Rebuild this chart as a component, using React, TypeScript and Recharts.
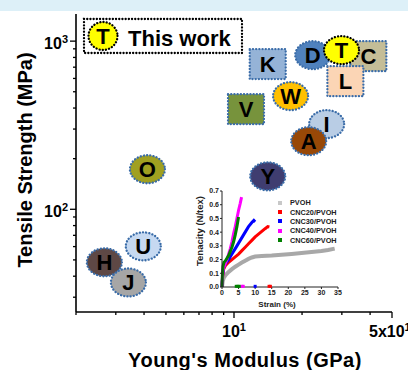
import React from 'react';
import { ScatterChart, Scatter, XAxis, YAxis, ComposedChart, Line } from 'recharts';

const FONT = '"Liberation Sans", Arial, Helvetica, sans-serif';

// main plot: literature values, modulus (GPa) vs strength (MPa)
const labels = ['K', 'D', 'C', 'T', 'L', 'W', 'V', 'I', 'A', 'Y', 'O', 'U', 'H', 'J'];
const modulus = [14.1, 22.3, 39.3, 29.9, 31.1, 17.8, 11.3, 25.7, 21.4, 14.1, 4.14, 3.97, 2.67, 3.41];
const strength = [730, 825, 814, 884, 578, 471, 394, 321, 254, 157, 173, 60.2, 48.4, 36.7];

const xTicks = [2, 3, 4, 5, 6, 7, 8, 9, 10, 20, 30, 40, 50];
const yTicks = [30, 40, 50, 60, 70, 80, 90, 100, 200, 300, 400, 500, 600, 700, 800, 900, 1000];
const xMajor = [10, 50];
const yMajor = [100, 1000];

// inset: tensile curves
const seriesNames = ['PVOH', 'CNC20/PVOH', 'CNC30/PVOH', 'CNC40/PVOH', 'CNC60/PVOH'];
const pvohStrain = [0, 0.2, 0.5, 1, 2, 3, 4, 5, 6, 7, 8, 9, 10, 12, 15, 18, 21, 24, 27, 30, 32, 34];
const pvohTenacity = [0, 0.04, 0.065, 0.085, 0.11, 0.13, 0.148, 0.163, 0.178, 0.192, 0.205, 0.215, 0.222, 0.226, 0.229, 0.235, 0.241, 0.248, 0.255, 0.263, 0.27, 0.28];
const cnc20Strain = [0, 0.2, 0.5, 1, 2, 3, 4, 5, 6, 7, 8, 9, 10, 11, 12, 13, 13.8, 14.3];
const cnc20Tenacity = [0, 0.08, 0.13, 0.155, 0.18, 0.2, 0.22, 0.24, 0.265, 0.29, 0.315, 0.34, 0.365, 0.385, 0.405, 0.425, 0.44, 0.437];
const cnc30Strain = [0, 0.2, 0.5, 1, 2, 3, 4, 5, 6, 7, 8, 9, 9.6, 10];
const cnc30Tenacity = [0, 0.09, 0.14, 0.17, 0.2, 0.24, 0.28, 0.32, 0.36, 0.4, 0.44, 0.47, 0.485, 0.475];
const cnc40Strain = [0, 0.2, 0.5, 1, 1.5, 2, 2.5, 3, 3.5, 4, 4.5, 5, 5.5, 5.9];
const cnc40Tenacity = [0, 0.1, 0.14, 0.17, 0.2, 0.24, 0.28, 0.33, 0.39, 0.44, 0.5, 0.56, 0.61, 0.655];
const cnc60Strain = [0, 0.1, 0.3, 0.6, 1, 1.5, 2, 2.5, 3, 3.5, 4, 4.5, 5];
const cnc60Tenacity = [0, 0.08, 0.15, 0.18, 0.19, 0.21, 0.23, 0.26, 0.29, 0.33, 0.38, 0.44, 0.51];
// points left on the axis after the samples broke
const breakStrain = [[], [14.2, 14.6], [10], [6.0, 6.4], [4.3, 4.8, 5.2]];
const strainTicks = [0, 5, 10, 15, 20, 25, 30, 35];
const tenacityTicks = [0, 0.1, 0.2, 0.3, 0.4, 0.5, 0.6, 0.7];

const markerStyle: Record<string, { fill: string; box?: boolean }> = {
  K: { fill: '#95b3d7', box: true },
  D: { fill: '#4f81bd' },
  C: { fill: '#c4bd97', box: true },
  T: { fill: '#ffff00' },
  L: { fill: '#fbd5b5', box: true },
  W: { fill: '#ffc000' },
  V: { fill: '#77933c', box: true },
  I: { fill: '#b9cde5' },
  A: { fill: '#984807' },
  Y: { fill: '#3f3d70' },
  O: { fill: '#a0a020' },
  U: { fill: '#c6d9f1' },
  H: { fill: '#5e4845' },
  J: { fill: '#a6a6a6' },
};
const seriesColors = ['#a8a8a8', '#ff0000', '#0000ff', '#ff00ff', '#008000'];

const points = labels.map((label, i) => ({ x: modulus[i], y: strength[i], label }));
const curveStrain = [pvohStrain, cnc20Strain, cnc30Strain, cnc40Strain, cnc60Strain];
const curveTenacity = [pvohTenacity, cnc20Tenacity, cnc30Tenacity, cnc40Tenacity, cnc60Tenacity];
const curves = seriesNames.map((name, i) => ({
  name,
  points: curveStrain[i].map((s, j) => ({ s, t: curveTenacity[i][j] })),
  breaks: breakStrain[i].map((s) => ({ s, t: 0.005 })),
}));

const dotted = { strokeDasharray: '0.1 3.1', strokeLinecap: 'round' as const, strokeWidth: 2.3 };

function Marker(props: any) {
  const { cx, cy, payload } = props;
  const st = markerStyle[payload.label];
  const stroke = payload.label === 'T' ? '#000' : '#3a6ca8';
  return (
    <g>
      {st.box ? (
        <rect x={cx - 18} y={cy - 15} width={36} height={30} fill={st.fill} stroke={stroke} {...dotted} />
      ) : (
        <ellipse cx={cx} cy={cy} rx={17.5} ry={14} fill={st.fill} stroke={stroke} {...dotted} />
      )}
      <text x={cx} y={cy + 8} textAnchor="middle" fontFamily={FONT} fontWeight={700} fontSize={22} fill="#000">
        {payload.label}
      </text>
    </g>
  );
}

function LeftTick({ x, y, payload }: any) {
  const major = yMajor.includes(payload.value);
  return (
    <g>
      <line x1={x} x2={x - (major ? 6 : 3)} y1={y} y2={y} stroke="#000" strokeWidth={1.3} />
      {major && (
        <text x={x - 8} y={y + 8} textAnchor="end" fontFamily={FONT} fontWeight={700} fontSize={16} fill="#000">
          <tspan>10</tspan>
          <tspan dy={-6} fontSize={11}>{Math.round(Math.log10(payload.value))}</tspan>
        </text>
      )}
    </g>
  );
}

function RightTick({ x, y, payload }: any) {
  const major = yMajor.includes(payload.value);
  return <line x1={x} x2={x - (major ? 6 : 3)} y1={y} y2={y} stroke="#000" strokeWidth={1.3} />;
}

function BottomTick({ x, y, payload }: any) {
  const v = payload.value;
  const major = xMajor.includes(v);
  const last = v === 50;
  return (
    <g>
      <line x1={x} x2={x} y1={y} y2={y + (major ? 6 : 3)} stroke="#000" strokeWidth={1.3} />
      {major && (
        <text x={last ? x - 23 : x} y={y + 25} textAnchor={last ? 'start' : 'middle'} fontFamily={FONT} fontWeight={700} fontSize={16} fill="#000">
          <tspan>{last ? '5x10' : '10'}</tspan>
          <tspan dy={-6} fontSize={11}>1</tspan>
        </text>
      )}
    </g>
  );
}

function TopTick({ x, y, payload }: any) {
  const major = xMajor.includes(payload.value);
  return <line x1={x} x2={x} y1={y} y2={y + (major ? 6 : 3)} stroke="#000" strokeWidth={1.3} />;
}

function BreakMark(props: any) {
  const { cx, cy, fill } = props;
  return <rect x={cx - 1.5} y={cy - 1.5} width={3} height={3} fill={fill} />;
}

const axisLine = { stroke: '#000', strokeWidth: 1.6 };
const insetTick = { fontFamily: FONT, fontWeight: 700, fontSize: 7, fill: '#222' };

export default function App() {
  return (
    <div style={{ position: 'absolute', left: 0, top: 0, width: 408, height: 370, background: '#fff', fontFamily: FONT, overflow: 'hidden' }}>
      <div style={{ position: 'absolute', left: 0, top: 0, width: 408, height: 11, background: '#ddf0f8' }} />

      <div style={{ position: 'absolute', left: 0, top: 0 }}>
        <ScatterChart width={408} height={370} margin={{ top: 14, right: 16, bottom: 0, left: 0 }}>
          <XAxis xAxisId="b" dataKey="x" type="number" scale="log" domain={[2, 50]} allowDataOverflow ticks={xTicks} interval={0}
            height={58} tickSize={0} tickMargin={0} tickLine={false} axisLine={axisLine} tick={(p: any) => <BottomTick {...p} />} />
          <XAxis xAxisId="t" orientation="top" dataKey="x" type="number" scale="log" domain={[2, 50]} allowDataOverflow ticks={xTicks} interval={0}
            height={0} tickSize={0} tickMargin={0} tickLine={false} axisLine={axisLine} tick={(p: any) => <TopTick {...p} />} />
          <YAxis yAxisId="l" dataKey="y" type="number" scale="log" domain={[24.5, 1450]} allowDataOverflow ticks={yTicks} interval={0}
            width={76} tickSize={0} tickMargin={0} tickLine={false} axisLine={axisLine} tick={(p: any) => <LeftTick {...p} />} />
          <YAxis yAxisId="r" orientation="right" dataKey="y" type="number" scale="log" domain={[24.5, 1450]} allowDataOverflow ticks={yTicks} interval={0}
            width={0} tickSize={0} tickMargin={0} tickLine={false} axisLine={axisLine} tick={(p: any) => <RightTick {...p} />} />
          <Scatter data={points} xAxisId="b" yAxisId="l" shape={(p: any) => <Marker {...p} />} isAnimationActive={false} />
        </ScatterChart>
      </div>

      {/* "This work" key */}
      <svg style={{ position: 'absolute', left: 0, top: 0 }} width={408} height={60}>
        <rect x={84} y={19} width={158} height={34} fill="none" stroke="#000" {...dotted} />
        <ellipse cx={103} cy={36} rx={14.5} ry={14} fill="#ffff00" stroke="#000" {...dotted} />
        <text x={103} y={44} textAnchor="middle" fontFamily={FONT} fontWeight={700} fontSize={22}>T</text>
        <text x={128} y={46} fontFamily={FONT} fontWeight={700} fontSize={22}>This work</text>
      </svg>

      <div style={{ position: 'absolute', left: 0, top: 160, width: 50, textAlign: 'center', transform: 'translate(0,-50%)' }}>
        <div style={{ transform: 'rotate(-90deg)', whiteSpace: 'nowrap', fontSize: 20, fontWeight: 700, marginLeft: -100, marginRight: -100 }}>
          Tensile Strength (MPa)
        </div>
      </div>
      <div style={{ position: 'absolute', left: 95, width: 300, top: 349, textAlign: 'center', fontSize: 20, fontWeight: 700, letterSpacing: 0.5, whiteSpace: 'nowrap' }}>
        Young's Modulus (GPa)
      </div>

      {/* inset */}
      <div style={{ position: 'absolute', left: 180, top: 186 }}>
        <ComposedChart width={166} height={124} margin={{ top: 5, right: 8, bottom: 0, left: 0 }}>
          <XAxis dataKey="s" type="number" domain={[0, 35]} ticks={strainTicks} interval={0} height={23}
            tickSize={2} tickMargin={1} tick={insetTick} axisLine={{ stroke: '#222' }} tickLine={{ stroke: '#222' }} />
          <YAxis dataKey="t" type="number" domain={[0, 0.7]} ticks={tenacityTicks} interval={0} width={42}
            tickSize={2} tickMargin={1} tick={insetTick} tickFormatter={(v: number) => v.toFixed(1)} axisLine={{ stroke: '#222' }} tickLine={{ stroke: '#222' }} />
          {curves.map((c, i) => (
            <Line key={c.name} data={c.points} dataKey="t" name={c.name} stroke={seriesColors[i]} strokeWidth={i === 0 ? 4 : 3}
              dot={false} isAnimationActive={false} />
          ))}
          {curves.map((c, i) => (
            <Scatter key={c.name + '-b'} data={c.breaks} dataKey="t" fill={seriesColors[i]} shape={(p: any) => <BreakMark {...p} />} isAnimationActive={false} />
          ))}
        </ComposedChart>
      </div>
      <div style={{ position: 'absolute', left: 199, top: 231, width: 0, height: 0 }}>
        <div style={{ position: 'absolute', transform: 'translate(-50%,-50%) rotate(-90deg)', whiteSpace: 'nowrap', fontSize: 9.5, fontWeight: 700, color: '#222' }}>
          Tenacity (N/tex)
        </div>
      </div>
      <div style={{ position: 'absolute', left: 277, top: 304, width: 0, height: 0 }}>
        <div style={{ position: 'absolute', transform: 'translate(-50%,-50%)', whiteSpace: 'nowrap', fontSize: 8, fontWeight: 700, color: '#222' }}>
          Strain (%)
        </div>
      </div>
      <div style={{ position: 'absolute', left: 278, top: 198 }}>
        {seriesNames.map((n, i) => (
          <div key={n} style={{ display: 'flex', alignItems: 'center', height: 9.4, fontSize: 7.3, fontWeight: 700, color: '#222' }}>
            <span style={{ display: 'inline-block', width: 4, height: 4, background: i === 0 ? '#c8c8c8' : seriesColors[i], marginRight: 8 }} />
            {n}
          </div>
        ))}
      </div>
    </div>
  );
}
